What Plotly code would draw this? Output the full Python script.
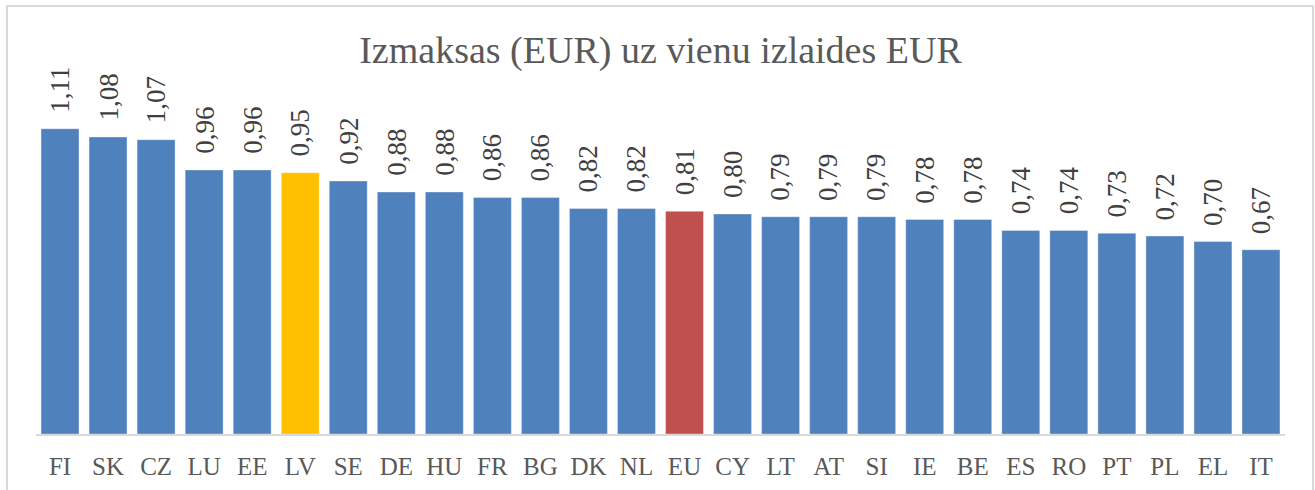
import plotly.graph_objects as go

categories = ["FI", "SK", "CZ", "LU", "EE", "LV", "SE", "DE", "HU", "FR", "BG", "DK", "NL",
              "EU", "CY", "LT", "AT", "SI", "IE", "BE", "ES", "RO", "PT", "PL", "EL", "IT"]
values = [1.11, 1.08, 1.07, 0.96, 0.96, 0.95, 0.92, 0.88, 0.88, 0.86, 0.86, 0.82, 0.82,
          0.81, 0.80, 0.79, 0.79, 0.79, 0.78, 0.78, 0.74, 0.74, 0.73, 0.72, 0.70, 0.67]
title_text = "Izmaksas (EUR) uz vienu izlaides EUR"

BLUE = "#4F81BD"
highlight = {"LV": "#FFC000", "EU": "#C0504D"}
colors = [highlight.get(c, BLUE) for c in categories]

W, H = 1315, 490
ml, mr, mt, mb = 36, 30, 104, 56
pw = W - ml - mr
ph = H - mt - mb

def px_x(p):
    return (p - ml) / pw

def px_y(p):
    return (H - mb - p) / ph

SERIF = "Liberation Serif, DejaVu Serif, serif"

fig = go.Figure()
fig.add_trace(go.Bar(
    x=categories, y=values,
    marker=dict(color=colors, line=dict(color="rgba(255,255,255,0.35)", width=1)),
    hoverinfo="x+y",
))

for c, v in zip(categories, values):
    fig.add_annotation(
        x=c, y=v, xref="x", yref="y",
        text=f"{v:.2f}".replace(".", ","),
        textangle=-90, showarrow=False,
        yanchor="bottom", xanchor="center", yshift=14,
        font=dict(family=SERIF, size=27, color="#404040"),
    )

fig.add_shape(type="rect", xref="paper", yref="paper",
              x0=px_x(7), x1=px_x(1313), y0=px_y(520), y1=px_y(6),
              line=dict(color="#D9D9D9", width=2), fillcolor="rgba(0,0,0,0)", layer="below")

fig.update_layout(
    width=W, height=H,
    margin=dict(l=ml, r=mr, t=mt, b=mb, autoexpand=False),
    paper_bgcolor="white", plot_bgcolor="white",
    separators=", ",
    bargap=0.21,
    showlegend=False,
    title=dict(text=title_text, x=0.5, xanchor="center", xref="paper",
               y=1 - 50 / H, yanchor="middle",
               font=dict(family=SERIF, size=38, color="#595959")),
    xaxis=dict(showline=True, linecolor="#D9D9D9", linewidth=2, ticks="",
               tickfont=dict(family=SERIF, size=25, color="#595959"),
               ticklabelstandoff=9, automargin=False, showgrid=False, zeroline=False),
    yaxis=dict(range=[0, 1.2], visible=False, showgrid=False, zeroline=False),
)

fig.write_html("out.html", config={"displayModeBar": False},
               post_script="document.body.style.margin='0px';")
